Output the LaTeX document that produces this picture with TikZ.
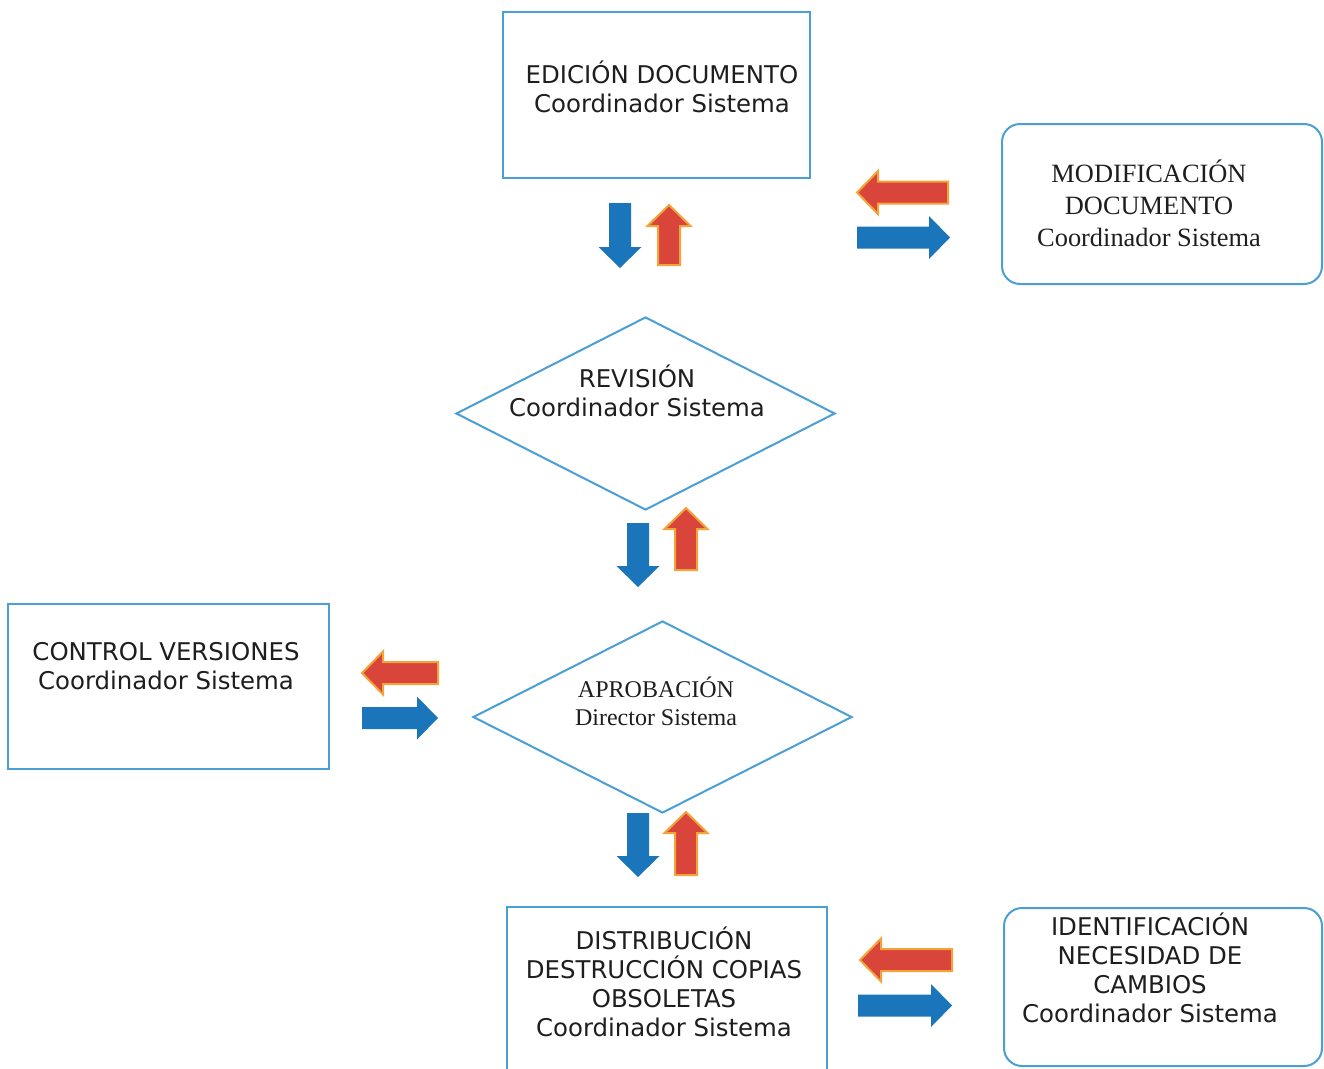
\documentclass[tikz,border=0pt]{standalone}
\usepackage{fontspec}
\setmainfont{DejaVu Sans}
\newfontfamily\serifT{Liberation Serif}
\usetikzlibrary{shapes.geometric}
\definecolor{bordblue}{HTML}{4A9FD4}
\definecolor{arrblue}{HTML}{1B75BB}
\definecolor{arrred}{HTML}{D9453A}
\definecolor{arrorange}{HTML}{F2A33A}
\definecolor{txtc}{HTML}{1E1E1E}
\tikzset{
  box/.style={draw=bordblue, line width=2pt, inner sep=0pt},
  rbox/.style={box, rounded corners=18pt},
  dbox/.style={box, diamond},
  sans/.style={align=center, inner sep=0pt, text=txtc, font=\fontsize{24.4}{29}\selectfont},
  serifA/.style={align=center, inner sep=0pt, text=txtc, font=\serifT\fontsize{26.4}{32}\selectfont},
  serifB/.style={align=center, inner sep=0pt, text=txtc, font=\serifT\fontsize{24}{28}\selectfont},
  bluearr/.style={fill=arrblue},
  redarr/.style={fill=arrred, draw=arrorange, line width=2pt},
  barrow/.pic={
    \path[pic actions] (-#1/2,-11) -- (#1/2-21,-11) -- (#1/2-21,-21.5) -- (#1/2,0)
      -- (#1/2-21,21.5) -- (#1/2-21,11) -- (-#1/2,11) -- cycle;
  }
}
\begin{document}
\begin{tikzpicture}[x=1pt,y=-1pt]
\useasboundingbox (0,0) rectangle (1324,1068);
\clip (0,0) rectangle (1324,1068);
\fill[white] (0,0) rectangle (1324,1068);

% shapes
\node[box, minimum width=307pt, minimum height=166pt] (edicion) at (656.5,95) {};
\node[rbox, minimum width=320pt, minimum height=160pt] (modif) at (1162,204) {};
\node[dbox, minimum width=379pt, minimum height=193pt] (revision) at (645.5,413.5) {};
\node[dbox, minimum width=379pt, minimum height=192pt] (aprob) at (662.5,717) {};
\node[box, minimum width=321pt, minimum height=165pt] (control) at (168.5,686.5) {};
\node[box, minimum width=320pt, minimum height=173pt] (distrib) at (667,993.5) {};
\node[rbox, minimum width=318pt, minimum height=158pt] (identif) at (1163,987) {};

% texts
\node[sans] (edicionT) at (662,86.5) {EDICIÓN DOCUMENTO\\Coordinador Sistema};
\node[serifA] (modifT) at (1149,203) {MODIFICACIÓN\\DOCUMENTO\\Coordinador Sistema};
\node[sans] (revisionT) at (637,391) {REVISIÓN\\Coordinador Sistema};
\node[serifB] (aprobT) at (656,701) {APROBACIÓN\\Director Sistema};
\node[sans] (controlT) at (166,666.5) {CONTROL VERSIONES\\Coordinador Sistema};
\node[sans] (distribT) at (664,982) {DISTRIBUCIÓN\\DESTRUCCIÓN COPIAS\\OBSOLETAS\\Coordinador Sistema};
\node[sans] (identifT) at (1150,967.5) {IDENTIFICACIÓN\\NECESIDAD DE\\CAMBIOS\\Coordinador Sistema};

% block arrows
\pic[bluearr, rotate=-90] at (620,235.5) {barrow=65};
\pic[redarr, rotate=90] at (669,235) {barrow=60};
\pic[redarr, rotate=180] at (902.5,192.5) {barrow=91};
\pic[bluearr] at (903.5,237.5) {barrow=93};
\pic[bluearr, rotate=-90] at (638,555) {barrow=64};
\pic[redarr, rotate=90] at (686,539) {barrow=62};
\pic[redarr, rotate=180] at (400,673) {barrow=76};
\pic[bluearr] at (400,718) {barrow=76};
\pic[bluearr, rotate=-90] at (638,845) {barrow=64};
\pic[redarr, rotate=90] at (686,843.5) {barrow=63};
\pic[redarr, rotate=180] at (906,960) {barrow=92};
\pic[bluearr] at (905,1005.5) {barrow=94};
\end{tikzpicture}
\end{document}
